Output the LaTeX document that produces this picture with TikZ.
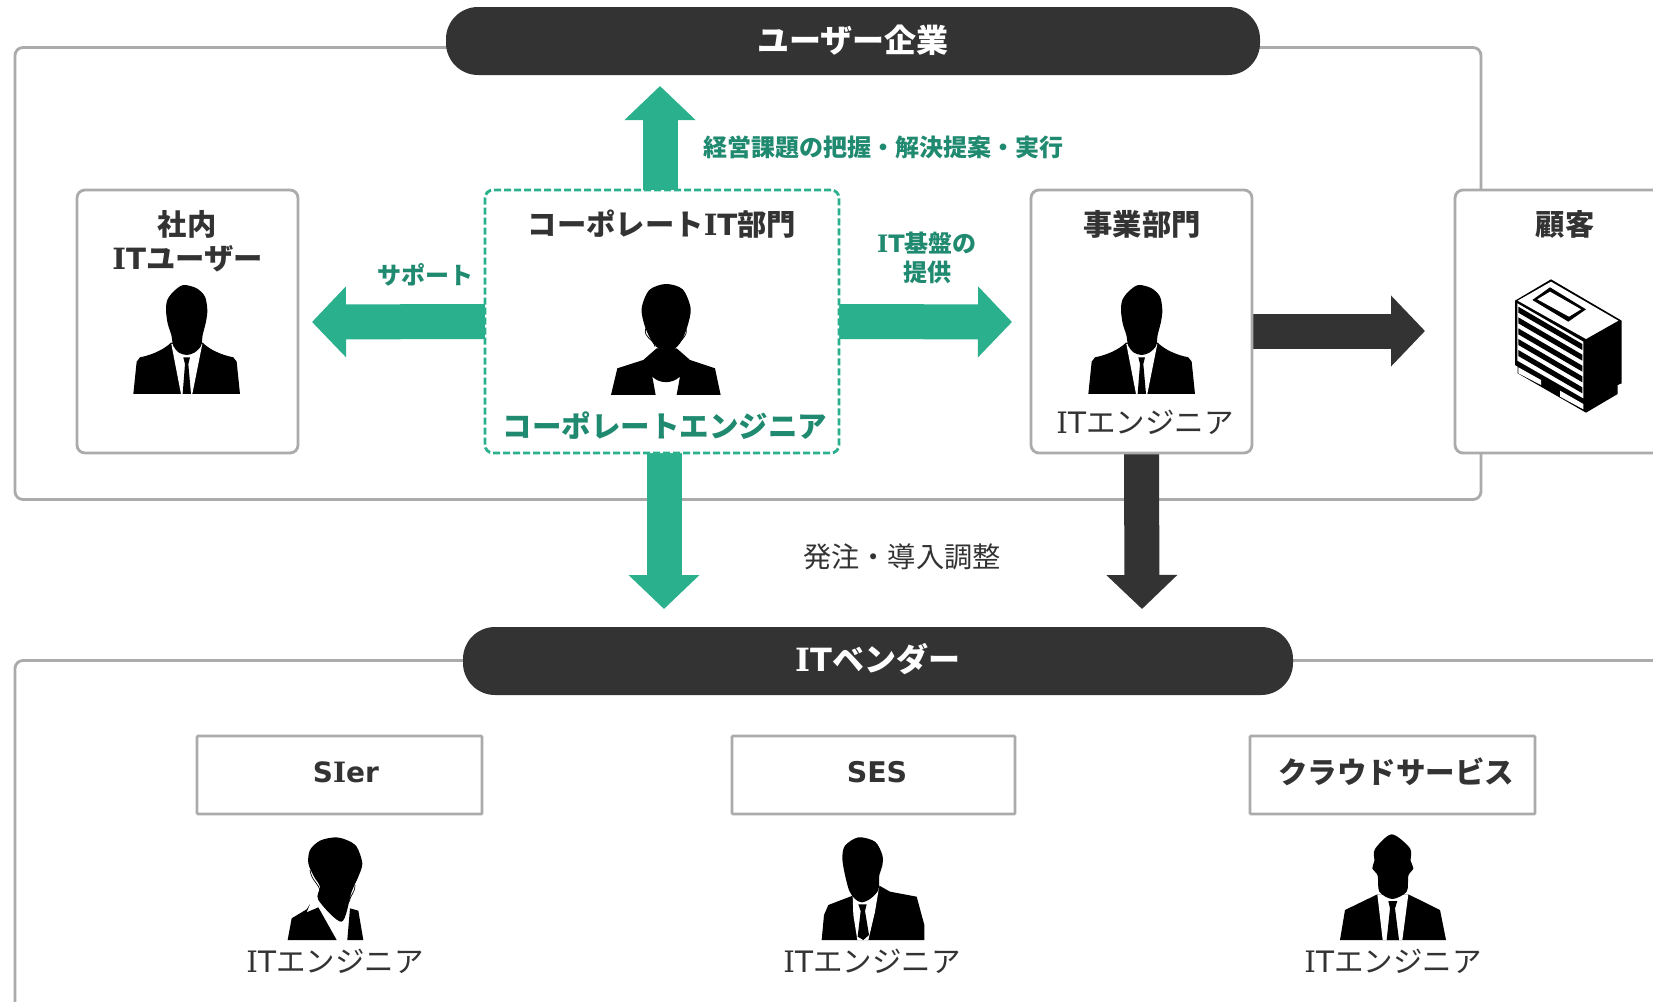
\documentclass[tikz,border=0pt]{standalone}
\usepackage{fontspec}
\setmainfont{Noto Sans CJK JP}
\newfontfamily\lat{DejaVu Sans}
\newfontfamily\latser{DejaVu Serif}
\newcommand\ITw{{\latser I}{\lat T}}
\usetikzlibrary{arrows.meta,positioning,calc}
\definecolor{dk}{HTML}{333333}
\definecolor{gr}{HTML}{2BB08E}
\definecolor{gt}{HTML}{1F8A70}
\definecolor{bd}{HTML}{ABABAB}
\pgfdeclarelayer{bg}\pgfdeclarelayer{mid}
\pgfsetlayers{bg,mid,main}
\tikzset{
 panel/.style={draw=bd,line width=2.8pt,fill=white,rounded corners=8pt,anchor=north west,inner sep=0,outer sep=0},
 dashbox/.style={draw=gr,line width=2.8pt,fill=white,rounded corners=8pt,anchor=north west,inner sep=0,outer sep=0,dash pattern=on 7pt off 3pt},
 pill/.style={fill=dk,rounded corners=32pt,anchor=north west,inner sep=0,outer sep=0,text=white,font=\fontsize{32}{36}\selectfont\bfseries},
 head/.style={text=dk,inner sep=0,font=\fontsize{29.3}{34}\selectfont\bfseries},
 eng/.style={text=dk,inner sep=0,font=\fontsize{29.5}{34}\selectfont},
 glab/.style={text=gt,inner sep=0,align=center,font=\fontsize{24}{28.5}\selectfont\bfseries},
 blockg/.style={draw=gr,line width=35pt,-{Triangle[length=34pt,width=69pt,fill=gr]}},
 blockd/.style={draw=dk,line width=35pt,-{Triangle[length=34pt,width=69pt,fill=dk]}},
}
\newcommand\manA[2]{\begin{scope}[shift={(#1,#2)},scale=.3333]
 \fill (85,372)--(95,275)--(105,262)..controls (140,255) and (175,240)..(198,218)--(293,218)..controls (315,240) and (350,255)..(385,262)--(395,275)--(405,372)--cycle;
 \fill[white] (199,222)--(292,222)--(262,372)--(228,372)--cycle;
 \fill (235,262)--(255,262)--(250,282)--(258,372)--(233,372)--(240,282)--cycle;
 \fill plot[smooth cycle] coordinates {(245,255)(222,248)(205,228)(199,195)(188,160)(183,120)(187,90)(205,65)(235,45)(275,55)(300,80)(307,120)(303,155)(293,195)(288,228)(268,248)};
\end{scope}}
\newcommand\manB[2]{\begin{scope}[shift={(#1,#2)},scale=.3333]
 \fill (65,345)--(72,270)--(85,240)--(158,212)--(238,182)--(270,200)--(350,215)--(373,300)--(373,345)--cycle;
 \fill[white] (158,212)--(238,182)--(225,260)--(205,345)--(172,345)--(160,270)--cycle;
 \fill (175,238)--(200,238)--(195,258)--(207,330)--(190,345)--(173,335)--(182,258)--cycle;
 \fill plot[smooth cycle] coordinates {(185,232)(165,222)(148,198)(135,150)(127,100)(135,62)(175,37)(225,50)(247,90)(247,122)(238,150)(235,195)(210,222)};
\end{scope}}
\newcommand\manC[2]{\begin{scope}[shift={(#1,#2)},scale=.3333]
 \fill (60,345)--(75,255)--(172,208)--(265,208)--(360,255)--(378,345)--cycle;
 \fill[white] (172,208)--(265,208)--(247,345)--(188,345)--cycle;
 \fill (205,228)--(232,228)--(225,250)--(237,345)--(200,345)--(210,250)--cycle;
 \fill plot[smooth cycle] coordinates {(217,222)(178,200)(173,152)(157,130)(163,108)(165,72)(215,28)(270,70)(272,108)(280,130)(265,152)(260,200)};
\end{scope}}
\newcommand\womanA[2]{\begin{scope}[shift={(#1,#2)},scale=.3333]
 \fill (393,645)--(412,565)--(490,540)--(530,505)--(590,505)--(630,540)--(705,565)--(722,645)--(590,645)--(600,590)..controls (575,612) and (540,612)..(517,590)--(527,645)--cycle;
 \fill plot[smooth cycle] coordinates {(558,312)(608,328)(632,385)(622,440)(600,490)(560,520)(520,490)(495,440)(485,385)(508,330)};
 \draw[line width=.7pt] (497,445)..controls (490,475) and (520,475)..(525,500);
 \draw[line width=.7pt] (618,445)..controls (625,475) and (595,480)..(590,500);
\end{scope}}
\newcommand\womanB[2]{\begin{scope}[shift={(#1,#2)},scale=.3333]
 \fill (143,360)--(155,295)--(200,268)--(210,252)--(200,277)--(235,262)--(290,360)--cycle;
 \fill (322,360)--(330,265)--(355,272)--(370,360)--cycle;
 \fill plot[smooth cycle] coordinates {(285,52)(320,60)(350,80)(367,130)(355,170)(335,215)(305,305)(235,240)(240,200)(222,170)(205,130)(210,90)(240,62)};
 \draw[line width=.7pt] (210,150)..controls (215,185) and (238,190)..(240,215);
 \draw[line width=.7pt] (345,195)..controls (345,220) and (330,225)..(328,245);
\end{scope}}
\newcommand\bldg[2]{\begin{scope}[shift={(#1,#2)},scale=.3333]
 \fill (30,92)--(138,28)--(350,152)--(350,340)--(338,345)--(338,372)--(243,428)--(38,310)--(38,290)--(30,285)--cycle;
 \fill[white] (38,92)--(138,35)--(340,152)--(243,207)--cycle;
 \fill (82,90)--(135,52)--(243,118)--(190,155)--cycle;
 \fill[white] (97,88)--(135,65)--(228,118)--(192,140)--cycle;
 \fill[white] (37,100)--(235,215)--(235,385)--(37,272)--cycle;
 \foreach \b in {110,142,175,207,240}{\fill (40,\b)--(232,\b+112)--(232,\b+130)--(40,\b+18)--cycle;}
 \fill[white] (40,292)--(108,330)--(108,345)--(40,310)--cycle;
 \fill[white] (165,362)--(235,402)--(235,418)--(165,380)--cycle;
\end{scope}}
\begin{document}
\begin{tikzpicture}[x=1pt,y=-1pt]
\useasboundingbox (0,0) rectangle (1653,1001);
\clip (0,0) rectangle (1653,1001);
% outer panels
\begin{pgfonlayer}{bg}
\node[panel,minimum width=1466pt,minimum height=452pt] (outertop) at (15,47.5) {};
\node[panel,minimum width=1800pt,minimum height=500pt] (outerbot) at (15,660.5) {};
\end{pgfonlayer}
% boxes
\node[panel,minimum width=221pt,minimum height=263pt] (itusers) at (77,190) {};
\node[dashbox,minimum width=354pt,minimum height=263pt] (corp) at (485,190) {};
\node[panel,minimum width=221pt,minimum height=263pt] (biz) at (1031,190) {};
\node[panel,minimum width=300pt,minimum height=263pt] (cust) at (1455,190) {};
\node[pill,minimum width=814pt,minimum height=68pt] (ue) at (446,7) {\raisebox{1pt}[\height][\depth]{ユーザー企業}};
\node[pill,minimum width=830pt,minimum height=68pt] (vendor) at (463,627) {\raisebox{2pt}[\height][\depth]{\ITw ベンダー}};
\node[panel,rounded corners=1pt,minimum width=285pt,minimum height=78pt] (sier) at (197,736) {};
\node[panel,rounded corners=1pt,minimum width=283pt,minimum height=78pt] (ses) at (732,736) {};
\node[panel,rounded corners=1pt,minimum width=285pt,minimum height=78pt] (cloud) at (1250,736) {};
% labels
\node[head] (tA) at (187,224) {社内};
\node[head] (tB) at (187.5,259) {\ITw ユーザー};
\node[head] (tC) at (662,224) {コーポレート\ITw 部門};
\node[head,text=gt,font=\fontsize{29.5}{34}\selectfont\bfseries] (tD) at (665,426) {コーポレートエンジニア};
\node[head] (tE) at (1142,224) {事業部門};
\node[eng] (tF) at (1145,422) {\ITw エンジニア};
\node[head] (tG) at (1565,224) {顧客};
\node[glab] (tH) at (883,147) {経営課題の把握・解決提案・実行};
\node[glab] (tI) at (425,275) {サポート};
\node[glab] (tJ) at (927,258) {\ITw 基盤の\\提供};
\node[eng,font=\fontsize{28.2}{34}\selectfont] (tK) at (902,557) {発注・導入調整};
\node[head,font=\fontsize{28}{34}\selectfont\bfseries] (tL) at (346,772) {{\lat S}{\latser I}{\lat er}};
\node[head,font=\fontsize{28.5}{34}\selectfont\bfseries] (tM) at (877,772) {{\lat SES}};
\node[head,font=\fontsize{29.5}{34}\selectfont\bfseries] (tN) at (1396,772) {クラウドサービス};
\node[eng] (tO) at (335,961) {\ITw エンジニア};
\node[eng] (tP) at (872,961) {\ITw エンジニア};
\node[eng] (tQ) at (1393,961) {\ITw エンジニア};
% tips
\coordinate (upT) at (660,86);
\coordinate (leftT) at (312,322);
\coordinate (rightT) at (1012,322);
\coordinate (custT) at (1425,331);
\coordinate (downA) at (664,609);
\coordinate (downB) at (1142,609);
\begin{pgfonlayer}{mid}
\draw[blockg] (upT |- corp.north) -- (upT);
\draw[blockg] (corp.west) -- (leftT);
\draw[blockg] (corp.east) -- (rightT);
\draw[blockg] (downA |- corp.south) -- (downA);
\draw[blockd] (biz.east |- custT) -- (custT);
\draw[blockd] (biz.south) -- (downB);
\end{pgfonlayer}
% figures
\manA{105}{270}
\manA{1060}{270}
\womanA{480}{180}
\womanB{240}{820}
\manB{800}{825}
\manC{1320}{825}
\bldg{1505}{270}
\end{tikzpicture}
\end{document}
